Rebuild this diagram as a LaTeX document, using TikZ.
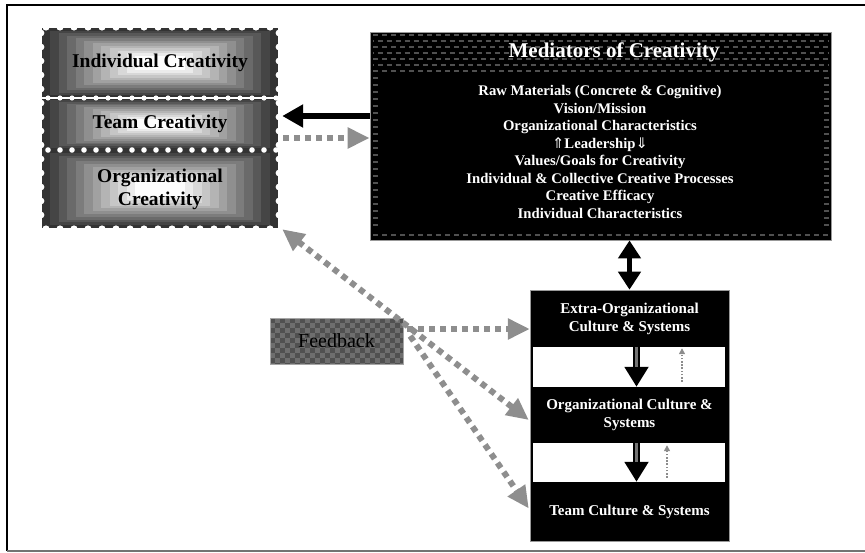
\documentclass[tikz,border=0pt]{standalone}
\usepackage{fontspec}
\setmainfont{Liberation Serif}
\newfontfamily\arrowfont{DejaVu Sans}
\usetikzlibrary{arrows.meta,calc}

\definecolor{fbgray}{HTML}{8E8E8E}
\definecolor{fbdark}{HTML}{505050}
\definecolor{fblight}{HTML}{6E6E6E}
\definecolor{meddash}{HTML}{505050}

% concentric grey bands, dark at the rim and white in the middle
\newcommand\bandfill[4]{%
  \foreach \k in {0,...,11}{%
    \pgfmathsetmacro\dx{\k*(#3-#1)*0.036}%
    \pgfmathsetmacro\dy{\k*(#4-#2)*0.036}%
    \pgfmathsetmacro\sh{80-\k*7.2}%
    \fill[black!\sh] (#1+\dx,#2+\dy) rectangle (#3-\dx,#4-\dy);
  }}

\tikzset{
  stacktext/.style={font=\fontsize{19.5}{23}\selectfont\bfseries, text=black,
    align=center, inner sep=0pt, minimum width=236pt},
  lowtext/.style={font=\fontsize{15}{18}\selectfont\bfseries, text=white,
    align=center, inner sep=0pt, minimum width=199pt},
  blkarrow/.style={line width=6pt, black, -{Triangle[width=22pt,length=21pt]}},
  fbarrow/.style={draw=fbgray, line width=6pt, dash pattern=on 6pt off 5pt,
    -{Triangle[width=20pt,length=22pt]}},
  dblarrow/.style={line width=5pt, black,
    {Triangle[width=22pt,length=18pt]}-{Triangle[width=22pt,length=18pt]}},
  downshaft/.style={line width=7pt, black, -{Triangle[width=23pt,length=20pt]}},
  downcore/.style={line width=3pt, black!55, shorten >=20pt},
  upfeed/.style={black!45, line width=1.4pt, dash pattern=on 1.6pt off 1.6pt,
    -{Triangle[width=6pt,length=6pt]}},
  fbbox/.style={minimum width=133pt, minimum height=46pt, inner sep=0pt,
    fill=fbdark, draw=black!35, font=\fontsize{20}{24}\selectfont, text=black,
    path picture={
      \foreach \i in {0,...,26} \foreach \j in {0,...,9} {
        \pgfmathtruncatemacro\chk{mod(\i+\j,2)}
        \ifnum\chk=1
          \fill[fblight] ($(path picture bounding box.north west)+(\i*5,\j*5)$) rectangle ++(5,5);
        \fi
      }}},
}

\begin{document}
\begin{tikzpicture}[x=1pt,y=-1pt]
\useasboundingbox (0,0) rectangle (865,552);

% outer frame
\draw[line width=2pt] (7,551) -- (7,5) -- (866,5);
\draw[line width=1.5pt, black!55] (7,551) -- (866,551);

% creativity stack: shaded bands
\bandfill{42}{28}{278}{98}
\bandfill{42}{98}{278}{150}
\bandfill{42}{150}{278}{228}

% stamp-like scalloped rim
\foreach \x in {46,60,...,276} {
  \fill[white] (\x,27) circle (3.6);
  \fill[white] (\x,229) circle (3.6);
}
\foreach \y in {33,47,...,225} {
  \fill[white] (41,\y) circle (3.4);
  \fill[white] (279,\y) circle (3.4);
}
% perforations between the levels
\draw[white, line width=1.2pt] (42,98) -- (278,98);
\foreach \x in {48,60,...,276} \fill[white] (\x,98) circle (2.6);
\foreach \x in {48,60,...,276} \fill[white] (\x,150) circle (2.8);

\node[stacktext, minimum height=70pt] (ind) at (160,63) {Individual Creativity};
\node[stacktext, minimum height=52pt] (team) at (160,124) {Team Creativity};
\node[stacktext, minimum height=78pt] (org) at (160,189) {Organizational\\Creativity};

% mediators panel
\node[draw=black!40, line width=0.8pt, fill=black, minimum width=461pt,
  minimum height=208pt, inner sep=0pt] (med) at (600.5,136) {};
\foreach \y in {35,47,59,71}
  \draw[meddash, line width=1.4pt, dash pattern=on 5pt off 4pt] (373,\y) -- (829,\y);
\foreach \y in {41,53,65}
  \draw[meddash, line width=1.4pt, dash pattern=on 5pt off 4pt, dash phase=4.5pt] (373,\y) -- (829,\y);
\foreach \y in {78,85,...,230} {
  \draw[meddash, line width=1.2pt] (373,\y) -- (378,\y);
  \draw[meddash, line width=1.2pt] (824,\y) -- (829,\y);
}
\draw[meddash, line width=1.2pt, dash pattern=on 5pt off 4pt] (373,235) -- (829,235);

\node[white, font=\fontsize{21}{25}\selectfont\bfseries] (medtitle) at (614,52)
  {Mediators of Creativity};
\node[white, align=center, inner sep=0pt, font=\fontsize{14.7}{17.45}\selectfont\bfseries]
  (medlist) at (600,152) {Raw Materials (Concrete \& Cognitive)\\
  Vision/Mission\\
  Organizational Characteristics\\
  {\arrowfont\mdseries ⇑}Leadership{\arrowfont\mdseries ⇓}\\
  Values/Goals for Creativity\\
  Individual \& Collective Creative Processes\\
  Creative Efficacy\\
  Individual Characteristics};

% culture & systems column
\node[fill=black, draw=black!40, line width=0.6pt, minimum width=199pt,
  minimum height=251pt, inner sep=0pt] (lower) at (629.5,415.5) {};
\node[fill=white, minimum width=192pt, minimum height=40pt, inner sep=0pt] (gap1) at (629,367) {};
\node[fill=white, minimum width=192pt, minimum height=39pt, inner sep=0pt] (gap2) at (629,462.5) {};
\node[lowtext, minimum height=57pt] (extra) at (629.5,318.5) {Extra-Organizational\\Culture \& Systems};
\node[lowtext, minimum height=56pt] (orgc) at (629.5,415) {Organizational Culture \&\\Systems};
\node[lowtext, minimum height=59pt] (teamc) at (629.5,511.5) {Team Culture \& Systems};

% top-down influence and bottom-up feedback inside the column
\draw[downshaft] ($(extra.south)+(7,0)$) -- ($(orgc.north)+(7,0)$);
\draw[downcore]  ($(extra.south)+(7,0)$) -- ($(orgc.north)+(7,0)$);
\draw[downshaft] ($(orgc.south)+(7,0)$) -- ($(teamc.north)+(7,0)$);
\draw[downcore]  ($(orgc.south)+(7,0)$) -- ($(teamc.north)+(7,0)$);
\draw[upfeed] ($(orgc.north)+(52.5,-5)$) -- ($(extra.south)+(52.5,1)$);
\draw[upfeed] ($(teamc.north)+(37.5,-4)$) -- ($(orgc.south)+(37.5,2)$);

% links between stack, mediators and column
\draw[blkarrow] ($(med.west)+(0,-20)$) -- ($(team.east)+(4,-8)$);
\draw[fbarrow] ($(team.east)+(5,14)$) -- ($(med.west)+(0,2)$);
\draw[dblarrow] (lower.north |- med.south) -- (lower.north);

% feedback
\node[fbbox] (fb) at (336.5,341) {Feedback};
\draw[fbarrow, {Triangle[width=20pt,length=22pt]}-{Triangle[width=20pt,length=22pt]}]
  ($(org.south east)+(4,1)$) -- ($(orgc.west)+(-1,5)$);
\draw[fbarrow] ($(fb.east)+(4,-12)$) -- ($(extra.west)+(0,10.5)$);
\draw[fbarrow] ($(fb.east)+(7,-5)$) -- ($(teamc.west)+(-1,-3)$);
\end{tikzpicture}
\end{document}
